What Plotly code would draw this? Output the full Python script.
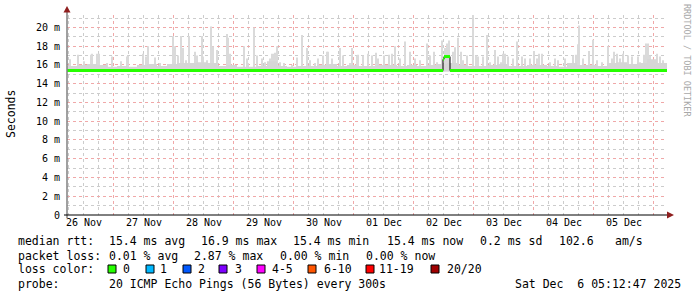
import plotly.graph_objects as go
from datetime import datetime, timedelta

# ---------------- data ----------------
START = datetime(2025, 11, 26, 5, 12, 47)
END = datetime(2025, 12, 6, 5, 12, 47)

# median rtt (ms) breakpoints, hours since START
median_hours = [0, 150.4, 150.8, 153.2, 240]
median_ms = [15.4, 16.6, 16.9, 15.4, 15.4]

# dense smoke top (ms), consolidated every 4 hours
smoke_step_hours = 4
smoke_base_ms = [15.9, 16.0, 16.1, 16.0, 15.8, 15.9, 15.8, 16.0, 16.1, 15.9,
                 16.1, 16.2, 16.2, 16.3, 16.2, 15.9, 16.0, 15.8, 15.8, 15.9,
                 16.4, 15.9, 15.8, 15.9, 15.9, 16.0, 16.1, 15.9, 16.0, 15.9,
                 15.9, 16.0, 16.0, 15.9, 16.0, 15.9, 16.0, 16.1, 16.2, 16.0,
                 15.9, 15.9, 16.0, 16.1, 15.9, 15.9, 16.0, 16.0, 15.9, 15.8,
                 16.2, 16.0, 16.0, 15.9, 16.2, 16.3, 16.1, 16.2, 16.6, 16.2]

# max-ping spikes: hours since START and top value (ms)
spike_hours = [1.2, 4.4, 6.8, 9.6, 10.0, 12.0, 12.8, 16.0, 18.0, 21.6, 24.0, 24.4,
               30.4, 31.6, 32.4, 35.2, 37.2, 42.4, 43.2, 44.4, 45.6, 46.4, 47.6,
               48.8, 51.2, 52.0, 54.0, 54.4, 56.0, 57.6, 58.4, 60.0,
               64.0, 64.4, 65.2, 67.6, 70.8, 72.0, 72.4, 74.8, 76.0, 78.0, 79.2,
               81.2, 82.0, 82.8, 83.2, 83.6, 84.0, 85.2, 86.8, 90.0, 92.0, 94.0,
               96.0, 97.2, 99.2, 100.4, 102.4, 104.0, 104.4, 106.0, 109.2, 110.4,
               113.2, 114.0, 116.0, 116.4, 118.4, 120.4, 122.0,
               123.6, 124.4, 126.8, 128.8, 130.0, 131.2, 133.2, 135.2, 137.2,
               139.2, 141.2, 144.0, 145.2, 146.8, 148.0, 150.0, 151.2, 152.0,
               152.8, 154.4, 155.2, 156.4, 157.6, 158.4, 160.0, 162.4, 163.6,
               164.4, 166.4, 168.0, 169.2, 171.2, 172.4, 173.6, 174.4, 175.2,
               176.4, 178.4, 180.0, 182.0, 183.2,
               185.2, 186.8, 188.0, 188.8, 190.0, 193.2, 195.2, 196.4, 199.2,
               202.4, 203.6, 204.4, 204.8, 206.4, 208.8, 210.4, 212.0, 214.0,
               216.4, 218.0, 218.8, 220.0, 221.2, 222.4, 224.4, 226.0, 228.4,
               229.2, 230.8, 231.6, 232.4, 233.2, 234.4, 236.0, 237.2, 238.4]
spike_ms = [16.6, 17.1, 16.4, 17.1, 17.2, 17.2, 17.2, 16.2, 16.9, 16.4, 16.9, 17.0,
            17.2, 16.9, 18.0, 16.8, 16.2, 19.1, 18.0, 17.0, 19.1, 17.8, 16.5,
            19.1, 17.4, 17.0, 19.1, 16.9, 16.5, 20.1, 18.0, 17.6,
            19.3, 18.9, 17.2, 16.0, 18.0, 16.7, 16.2, 20.0, 17.0, 16.7, 16.3,
            16.7, 17.2, 17.2, 17.3, 17.2, 18.0, 16.3, 16.2, 16.0, 16.8, 19.2,
            17.8, 16.5, 16.2, 16.7, 17.0, 17.4, 17.4, 16.7, 17.8, 17.0,
            16.2, 17.8, 17.0, 17.1, 17.0, 17.2, 17.0,
            17.3, 16.7, 17.0, 17.1, 17.2, 18.0, 16.7, 18.5, 17.4,
            16.7, 16.5, 18.3, 17.0, 17.4, 16.3, 18.6, 17.8, 18.3,
            18.6, 17.4, 17.9, 18.9, 17.4, 16.5, 17.0, 22.0, 17.0,
            16.9, 16.9, 19.2, 16.3, 17.6, 16.9, 16.3, 17.2, 17.2,
            16.9, 16.7, 18.5, 16.9, 16.7,
            16.7, 17.5, 16.7, 17.2, 17.2, 16.3, 16.7, 16.5, 16.7,
            17.0, 17.1, 18.2, 20.2, 16.7, 17.5, 18.7, 16.5, 16.3,
            18.0, 16.7, 17.4, 17.2, 16.7, 17.2, 17.0, 16.9, 16.9,
            16.3, 17.1, 18.3, 18.3, 17.0, 16.5, 17.2, 16.9, 16.5]

y_tick_vals = [0, 2, 4, 6, 8, 10, 12, 14, 16, 18, 20]
y_tick_text = ["0", "2 m", "4 m", "6 m", "8 m", "10 m", "12 m", "14 m", "16 m", "18 m", "20 m"]

loss_labels = ["0", "1", "2", "3", "4-5", "6-10", "11-19", "20/20"]
loss_colors = ["#26ff00", "#00b8ff", "#0059ff", "#7e00ff", "#ff00ff", "#ff5500", "#ff0000", "#a00000"]

legend_lines = [
    [("median rtt:", 17), ("15.4 ms avg", 108), ("16.9 ms max", 200), ("15.4 ms min", 292),
     ("15.4 ms now", 386), ("0.2 ms sd", 479), ("102.6", 558), ("am/s", 614)],
    [("packet loss:", 17), ("0.01 % avg", 108), ("2.87 % max", 193), ("0.00 % min", 279),
     ("0.00 % now", 365)],
    [("loss color:", 17)],
    [("probe:", 17), ("20 ICMP Echo Pings (56 Bytes) every 300s", 108),
     ("Sat Dec  6 05:12:47 2025", 514)],
]
line_y = [241, 255.5, 269, 283.5]
loss_sq_x = [108, 146, 183, 219, 257, 308, 366, 431]
loss_lbl_x = [122, 159, 197, 234, 271, 323, 378, 446]

# ---------------- layout geometry ----------------
W, H = 697, 297
L, R, T, B = 67, 30, 15, 82
PW, PH = W - L - R, H - T - B
Y_TOP = 21.33
MONO = "DejaVu Sans Mono"


def px(x):
    return (x - L) / PW


def py(y):
    return (T + PH - y) / PH


def t(h):
    return START + timedelta(hours=h)


fig = go.Figure()

# dense smoke band
sx, sy = [], []
for i, v in enumerate(smoke_base_ms):
    sx += [t(i * smoke_step_hours), t((i + 1) * smoke_step_hours)]
    sy += [v, v]
fig.add_trace(go.Scatter(x=sx, y=[15.3] * len(sx), mode="lines", line=dict(width=0),
                         hoverinfo="skip", showlegend=False))
fig.add_trace(go.Scatter(x=sx, y=sy, mode="lines", line=dict(width=0), fill="tonexty",
                         fillcolor="#d6d6d6", hoverinfo="skip", showlegend=False))

# spikes
fig.add_trace(go.Bar(x=[t(h) for h in spike_hours], y=[v - 15.3 for v in spike_ms], base=15.3,
                     width=1300 * 1000, marker=dict(color="#dadada", line=dict(width=0)),
                     hoverinfo="skip", showlegend=False))

# median black thin line
mx = [t(h) for h in median_hours]
fig.add_trace(go.Scatter(x=mx, y=median_ms, mode="lines", line=dict(color="#000000", width=1, shape="hv"),
                         hoverinfo="skip", showlegend=False))
# green loss-coloured segments
gx, gy = [], []
for i in range(len(median_hours) - 1):
    gx += [t(median_hours[i]), t(median_hours[i + 1]), None]
    gy += [median_ms[i], median_ms[i], None]
fig.add_trace(go.Scatter(x=gx, y=gy, mode="lines", line=dict(color=loss_colors[0], width=3),
                         connectgaps=False, hoverinfo="skip", showlegend=False))

shapes = []
# axes
shapes.append(dict(type="line", xref="paper", yref="paper", x0=px(67), x1=px(67), y0=py(218), y1=py(11),
                   line=dict(color="#808080", width=1.5), layer="above"))
shapes.append(dict(type="line", xref="paper", yref="paper", x0=px(64), x1=px(669), y0=py(215), y1=py(215),
                   line=dict(color="#000000", width=1), layer="above"))
arrow_col = "#8f1f1f"
shapes.append(dict(type="path", xref="paper", yref="paper",
                   path=f"M {px(63.5)} {py(12.5)} L {px(70.5)} {py(12.5)} L {px(67)} {py(6)} Z",
                   fillcolor=arrow_col, line=dict(width=0), layer="above"))
shapes.append(dict(type="path", xref="paper", yref="paper",
                   path=f"M {px(667)} {py(211.5)} L {px(667)} {py(218.5)} L {px(674)} {py(215)} Z",
                   fillcolor=arrow_col, line=dict(width=0), layer="above"))
# loss colour squares
for xs, c in zip(loss_sq_x, loss_colors):
    shapes.append(dict(type="rect", xref="paper", yref="paper", x0=px(xs), x1=px(xs + 8),
                       y0=py(273), y1=py(265), fillcolor=c, line=dict(color="#000000", width=1)))

annotations = []
for line, yy in zip(legend_lines, line_y):
    for txt, xx in line:
        annotations.append(dict(text=txt.replace(" ", "&nbsp;"), x=px(xx), y=py(yy), xref="paper", yref="paper",
                                xanchor="left", yanchor="middle", showarrow=False,
                                font=dict(family=MONO, size=11.5, color="#000000"), borderpad=0))
for lbl, xx in zip(loss_labels, loss_lbl_x):
    annotations.append(dict(text=lbl, x=px(xx), y=py(line_y[2]), xref="paper", yref="paper",
                            xanchor="left", yanchor="middle", showarrow=False,
                            font=dict(family=MONO, size=11.5, color="#000000"), borderpad=0))
annotations.append(dict(text="Seconds", x=px(11), y=py(114), xref="paper", yref="paper", textangle=-90,
                        xanchor="center", yanchor="middle", showarrow=False,
                        font=dict(family=MONO, size=11.5, color="#000000")))
annotations.append(dict(text="RRDTOOL / TOBI OETIKER", x=px(687), y=py(60), xref="paper", yref="paper",
                        textangle=90, xanchor="center", yanchor="middle", showarrow=False,
                        font=dict(family=MONO, size=8.5, color="#a8a8a8")))

red_grid = "#f0a8a8"
grey_grid = "#cccccc"
no_tick = dict(ticks="", ticklen=0, tickcolor="rgba(0,0,0,0)")
fig.update_layout(
    width=W, height=H, margin=dict(l=L, r=R, t=T, b=B, pad=0),
    paper_bgcolor="#ffffff", plot_bgcolor="#ffffff",
    barmode="overlay", showlegend=False,
    shapes=shapes, annotations=annotations,
    xaxis=dict(type="date", range=[START, END], tick0="2025-11-26 00:00:00", dtick=86400000,
               ticklabelmode="period", tickformat="%d %b", showline=False, zeroline=False,
               showgrid=True, gridcolor=red_grid, griddash="dot", gridwidth=1,
               tickfont=dict(family=MONO, size=10, color="#000000"), **no_tick,
               minor=dict(dtick=6 * 3600 * 1000, tick0="2025-11-26 00:00:00", showgrid=True,
                          gridcolor=grey_grid, griddash="dot", gridwidth=1, **no_tick)),
    yaxis=dict(range=[0, Y_TOP], tickvals=y_tick_vals, ticktext=[s + "\u00a0" for s in y_tick_text],
               showline=False, zeroline=False, showgrid=True, gridcolor=red_grid,
               griddash="dot", gridwidth=1, **no_tick,
               tickfont=dict(family=MONO, size=10, color="#000000"),
               minor=dict(dtick=1, tick0=0, showgrid=True, gridcolor=grey_grid,
                          griddash="dot", gridwidth=1, **no_tick)),
)

fig.write_html("out.html")
